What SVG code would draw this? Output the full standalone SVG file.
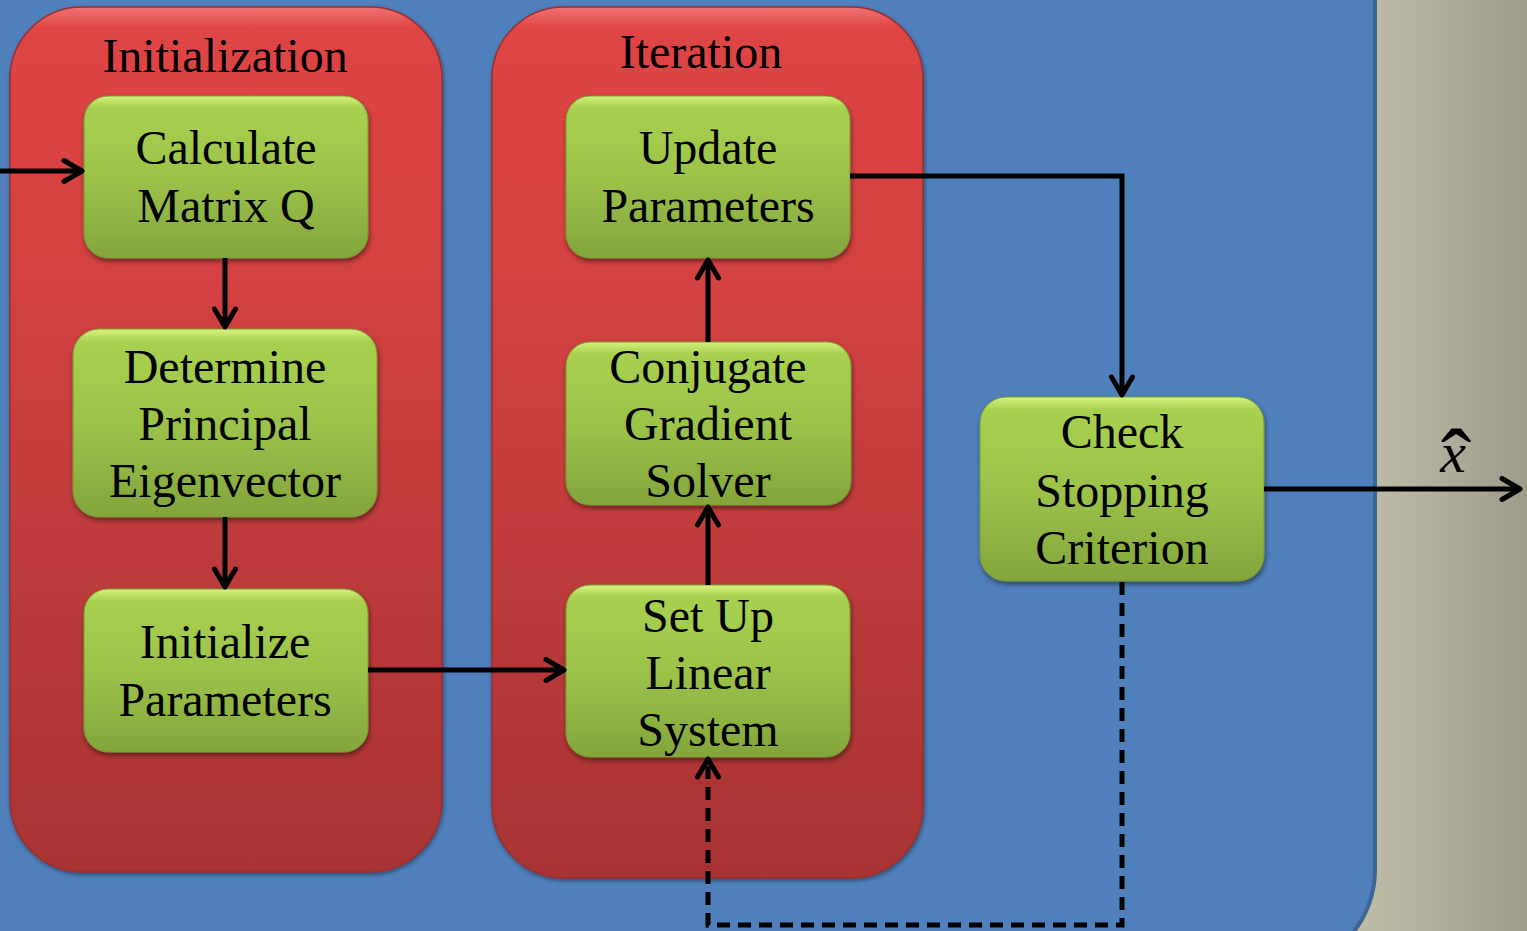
<svg xmlns="http://www.w3.org/2000/svg" width="1527" height="931" viewBox="0 0 1527 931">
<defs>
<style>
.lbl{font-family:"Liberation Serif","Times New Roman",serif;font-size:48px;fill:#000;text-anchor:middle}
.ttl{font-family:"Liberation Serif","Times New Roman",serif;font-size:48px;fill:#000;text-anchor:middle}
.cont{fill:url(#redGrad);stroke:#9a2e2e;stroke-width:1.5;filter:url(#shadowC)}
.node{fill:url(#greenGrad);stroke:#7a9a34;stroke-width:1;filter:url(#shadowN)}
.conn{fill:none;stroke:#000;stroke-width:5;stroke-linejoin:miter}
.dash{stroke-dasharray:13 8}
</style>
<linearGradient id="bgGrad" gradientUnits="userSpaceOnUse" x1="1376" y1="0" x2="1527" y2="0">
<stop offset="0" stop-color="#bdbaa6"/>
<stop offset="1" stop-color="#9e9b8b"/>
</linearGradient>
<linearGradient id="redGrad" x1="0" y1="0" x2="0" y2="1">
<stop offset="0" stop-color="#f27272"/>
<stop offset="0.025" stop-color="#de4444"/>
<stop offset="0.3" stop-color="#d44242"/>
<stop offset="1" stop-color="#a83333"/>
</linearGradient>
<linearGradient id="greenGrad" x1="0" y1="0" x2="0" y2="1">
<stop offset="0" stop-color="#d6f27e"/>
<stop offset="0.07" stop-color="#a9d150"/>
<stop offset="0.5" stop-color="#9cc34a"/>
<stop offset="1" stop-color="#83a53c"/>
</linearGradient>
<filter id="shadowN" x="-10%" y="-10%" width="125%" height="130%">
<feDropShadow dx="1" dy="3" stdDeviation="2.5" flood-color="#000" flood-opacity="0.45"/>
</filter>
<filter id="shadowC" x="-5%" y="-5%" width="115%" height="110%">
<feDropShadow dx="1" dy="2" stdDeviation="2" flood-color="#000" flood-opacity="0.4"/>
</filter>
<marker id="arr" viewBox="0 0 26 26" markerWidth="26" markerHeight="26" markerUnits="userSpaceOnUse" refX="22" refY="13" orient="auto">
<path d="M4,2.5 L22,13 L4,23.5" fill="none" stroke="#000" stroke-width="5" stroke-linecap="round" stroke-linejoin="round"/>
</marker>
</defs>

<g id="background">
<rect x="0" y="0" width="1527" height="931" fill="url(#bgGrad)"/>
<path d="M-10,-10 H1375 V870 A100,100 0 0 1 1275,970 H-10 Z" fill="#4f80bc" stroke="#3d6596" stroke-width="4"/>
</g>

<g id="initialization">
<rect class="cont" x="10" y="7" width="432" height="865" rx="72" ry="72"/>
<text class="ttl" x="225" y="72">Initialization</text>
</g>
<g id="iteration">
<rect class="cont" x="492" y="7" width="431" height="871" rx="72" ry="72"/>
<text class="ttl" x="701" y="68">Iteration</text>
</g>

<g id="calcQ">
<rect class="node" x="84" y="96" width="284" height="162" rx="24" ry="24"/>
<text class="lbl" x="226" y="164">Calculate</text>
<text class="lbl" x="226" y="222">Matrix Q</text>
</g>
<g id="eigen">
<rect class="node" x="73" y="329" width="304" height="188" rx="26" ry="26"/>
<text class="lbl" x="225" y="383">Determine</text>
<text class="lbl" x="225" y="440">Principal</text>
<text class="lbl" x="225" y="497">Eigenvector</text>
</g>
<g id="initParams">
<rect class="node" x="84" y="589" width="284" height="163" rx="24" ry="24"/>
<text class="lbl" x="225" y="658">Initialize</text>
<text class="lbl" x="225" y="716">Parameters</text>
</g>
<g id="updateParams">
<rect class="node" x="566" y="96" width="284" height="162" rx="24" ry="24"/>
<text class="lbl" x="708" y="164">Update</text>
<text class="lbl" x="708" y="222">Parameters</text>
</g>
<g id="cgSolver">
<rect class="node" x="566" y="342" width="285" height="163" rx="24" ry="24"/>
<text class="lbl" x="708" y="383">Conjugate</text>
<text class="lbl" x="708" y="440">Gradient</text>
<text class="lbl" x="708" y="497">Solver</text>
</g>
<g id="setupLinear">
<rect class="node" x="566" y="585" width="284" height="172" rx="24" ry="24"/>
<text class="lbl" x="708" y="632">Set Up</text>
<text class="lbl" x="708" y="689">Linear</text>
<text class="lbl" x="708" y="746">System</text>
</g>
<g id="checkStop">
<rect class="node" x="980" y="397" width="284" height="184" rx="26" ry="26"/>
<text class="lbl" x="1122" y="448">Check</text>
<text class="lbl" x="1122" y="507">Stopping</text>
<text class="lbl" x="1122" y="564">Criterion</text>
</g>

<g id="connectors">
<path class="conn" d="M0,171 H82" marker-end="url(#arr)"/>
<path class="conn" d="M225,258 V327" marker-end="url(#arr)"/>
<path class="conn" d="M225,517 V587" marker-end="url(#arr)"/>
<path class="conn" d="M368,670 H564" marker-end="url(#arr)"/>
<path class="conn" d="M708,585 V507" marker-end="url(#arr)"/>
<path class="conn" d="M708,342 V260" marker-end="url(#arr)"/>
<path class="conn" d="M850,176 H1122 V395" marker-end="url(#arr)"/>
<path class="conn" d="M1264,489 H1520" marker-end="url(#arr)"/>
<path class="conn dash" d="M1122,582 V925 H708 V759" marker-end="url(#arr)"/>
</g>

<g id="xhat">
<text font-family="Liberation Serif, serif" text-anchor="middle" fill="#000"><tspan x="1453" y="472" font-style="italic" font-size="58">x</tspan><tspan x="1456" y="492" font-size="92">ˆ</tspan></text>
</g>
</svg>
